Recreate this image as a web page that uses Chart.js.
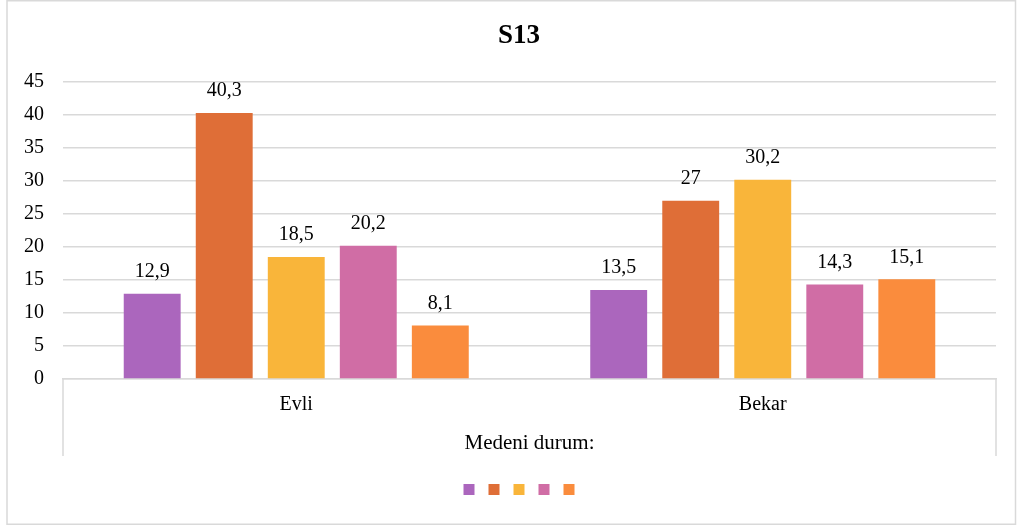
<!DOCTYPE html>
<html>
<head>
<meta charset="utf-8">
<script src="https://cdn.jsdelivr.net/npm/chart.js@4.4.0/dist/chart.umd.min.js"></script>
<style>
  html, body { margin: 0; padding: 0; background: #fff; }
  #wrap { width: 1022px; height: 526px; }
</style>
</head>
<body>
<div id="wrap"><canvas id="chart"></canvas></div>
<script>
// values
const chartTitle = "S13";
const groupLabel = "Medeni durum:";
const categories = ["Evli", "Bekar"];
const seriesColors = ["#AB66BD", "#DF6E37", "#F9B53A", "#D06DA5", "#FA8C3D"];
const series1 = [12.9, 13.5];
const series2 = [40.3, 27];
const series3 = [18.5, 30.2];
const series4 = [20.2, 14.3];
const series5 = [8.1, 15.1];
const yMin = 0;
const yMax = 45;
const yStep = 5;

const FONT = "'Liberation Serif', 'Times New Roman', serif";
const GRID = "#D9D9D9";
Chart.defaults.font.family = FONT;
Chart.defaults.color = "#000";

const allSeries = [series1, series2, series3, series4, series5];

function formatValue(v) {
  return String(v).replace(".", ",");
}

// white page, outer frame, title, category box and the label-less legend squares
const framePlugin = {
  id: "frame",
  beforeDraw(chart) {
    const ctx = chart.ctx;
    ctx.save();
    ctx.fillStyle = "#fff";
    ctx.fillRect(0, 0, chart.width, chart.height);
    ctx.restore();
  },
  afterDraw(chart) {
    const ctx = chart.ctx;
    const area = chart.chartArea;
    const mid = 519;
    ctx.save();
    ctx.strokeStyle = GRID;
    ctx.lineWidth = 1.5;
    ctx.strokeRect(7, 0.75, chart.width - 13.5, chart.height - 2.5);

    ctx.beginPath();
    ctx.moveTo(area.left, area.bottom);
    ctx.lineTo(area.left, area.bottom + 77);
    ctx.moveTo(area.right, area.bottom);
    ctx.lineTo(area.right, area.bottom + 77);
    ctx.stroke();

    ctx.fillStyle = "#000";
    ctx.font = "bold 27px " + FONT;
    ctx.textAlign = "center";
    ctx.textBaseline = "middle";
    ctx.fillText(chartTitle, mid, 36);

    const box = 11;
    const pitch = 25;
    const n = chart.data.datasets.length;
    let x = mid - ((n - 1) * pitch + box) / 2;
    chart.data.datasets.forEach((ds) => {
      ctx.fillStyle = ds.backgroundColor;
      ctx.fillRect(x, 484, box, box);
      x += pitch;
    });
    ctx.restore();
  }
};

// value labels above each bar
const valueLabels = {
  id: "valueLabels",
  afterDatasetsDraw(chart) {
    const ctx = chart.ctx;
    ctx.save();
    ctx.font = "20px " + FONT;
    ctx.fillStyle = "#000";
    ctx.textAlign = "center";
    ctx.textBaseline = "middle";
    chart.data.datasets.forEach((ds, i) => {
      chart.getDatasetMeta(i).data.forEach((bar, j) => {
        ctx.fillText(formatValue(ds.data[j]), bar.x, bar.y - 22);
      });
    });
    ctx.restore();
  }
};

new Chart(document.getElementById("chart"), {
  type: "bar",
  data: {
    labels: categories,
    datasets: allSeries.map((values, i) => ({
      label: "",
      data: values,
      backgroundColor: seriesColors[i],
      categoryPercentage: 0.772,
      barPercentage: 0.79
    }))
  },
  options: {
    responsive: true,
    maintainAspectRatio: false,
    animation: false,
    layout: { padding: { left: 0, right: 26, top: 82, bottom: 0 } },
    plugins: {
      legend: { display: false },
      tooltip: { enabled: false },
      title: { display: false }
    },
    scales: {
      x: {
        grid: { display: false, drawTicks: false },
        border: { color: GRID, width: 1.5 },
        ticks: { color: "#000", padding: 14, font: { size: 20 } },
        title: {
          display: true,
          text: groupLabel,
          color: "#000",
          font: { size: 21 },
          padding: { top: 0, bottom: 70 }
        },
        afterFit(scale) { scale.height = 147; }
      },
      y: {
        min: yMin,
        max: yMax,
        grid: { color: GRID, lineWidth: 1.5, drawTicks: false },
        border: { display: false },
        ticks: { stepSize: yStep, color: "#000", padding: 19, font: { size: 20 } },
        afterFit(scale) { scale.width = 63; }
      }
    }
  },
  plugins: [framePlugin, valueLabels]
});
</script>
</body>
</html>
